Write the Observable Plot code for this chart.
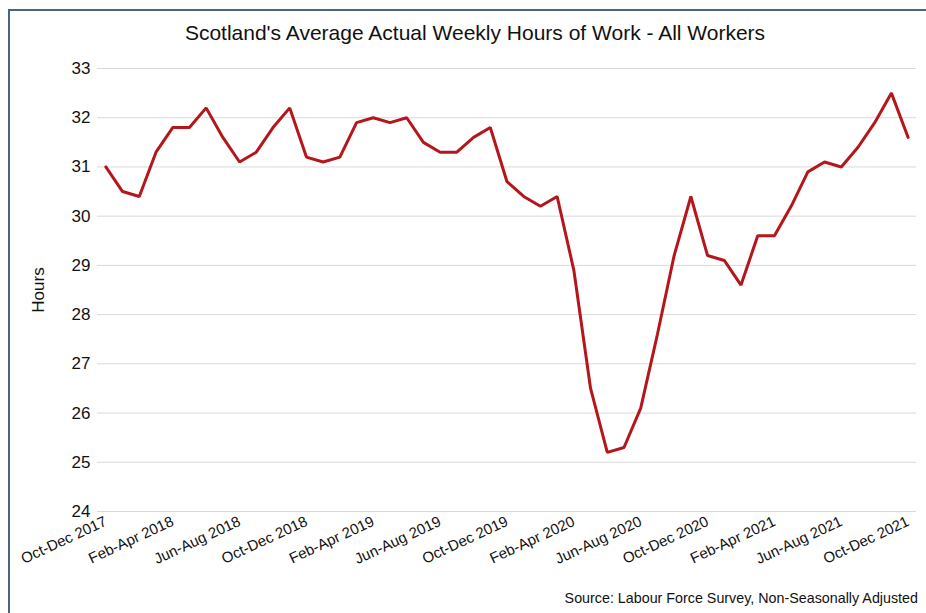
<!DOCTYPE html>
<html>
<head>
<meta charset="utf-8">
<script src="https://cdn.jsdelivr.net/npm/d3@7"></script>
<script src="https://cdn.jsdelivr.net/npm/@observablehq/plot@0.6"></script>
<style>
  html, body { margin: 0; padding: 0; background: #fff; }
  #wrap { position: relative; width: 926px; height: 613px; overflow: hidden; font-family: "Liberation Sans", Arial, sans-serif; color: #111; }
  #frame { position: absolute; left: 8px; top: 9px; width: 940px; height: 640px; border-top: 2px solid #46677d; border-left: 2px solid #46677d; box-sizing: border-box; }
  #title { position: absolute; left: 0; top: 22px; width: 950px; text-align: center; font-size: 21px; line-height: 1; }
  #source { position: absolute; right: 8px; top: 591px; font-size: 14.3px; line-height: 1; white-space: nowrap; }
  #chart { position: absolute; left: 0; top: 0; }
</style>
</head>
<body>
<div id="wrap">
  <div id="frame"></div>
  <div id="chart"></div>
  <div id="title">Scotland's Average Actual Weekly Hours of Work - All Workers</div>
  <div id="source">Source: Labour Force Survey, Non-Seasonally Adjusted</div>
</div>
<script>
const periods = ["Oct-Dec 2017","Nov-Jan 2018","Dec-Feb 2018","Jan-Mar 2018","Feb-Apr 2018","Mar-May 2018","Apr-Jun 2018","May-Jul 2018","Jun-Aug 2018","Jul-Sep 2018","Aug-Oct 2018","Sep-Nov 2018","Oct-Dec 2018","Nov-Jan 2019","Dec-Feb 2019","Jan-Mar 2019","Feb-Apr 2019","Mar-May 2019","Apr-Jun 2019","May-Jul 2019","Jun-Aug 2019","Jul-Sep 2019","Aug-Oct 2019","Sep-Nov 2019","Oct-Dec 2019","Nov-Jan 2020","Dec-Feb 2020","Jan-Mar 2020","Feb-Apr 2020","Mar-May 2020","Apr-Jun 2020","May-Jul 2020","Jun-Aug 2020","Jul-Sep 2020","Aug-Oct 2020","Sep-Nov 2020","Oct-Dec 2020","Nov-Jan 2021","Dec-Feb 2021","Jan-Mar 2021","Feb-Apr 2021","Mar-May 2021","Apr-Jun 2021","May-Jul 2021","Jun-Aug 2021","Jul-Sep 2021","Aug-Oct 2021","Sep-Nov 2021","Oct-Dec 2021"];

const hours = [31.0,30.5,30.4,31.3,31.8,31.8,32.2,31.6,31.1,31.3,31.8,32.2,
               31.2,31.1,31.2,31.9,32.0,31.9,32.0,31.5,31.3,31.3,31.6,31.8,
               30.7,30.4,30.2,30.4,28.9,26.5,25.2,25.3,26.1,27.6,29.2,30.4,
               29.2,29.1,28.6,29.6,29.6,30.2,30.9,31.1,31.0,31.4,31.9,32.5,
               31.6];

const xTickLabels = ["Oct-Dec 2017","Feb-Apr 2018","Jun-Aug 2018","Oct-Dec 2018","Feb-Apr 2019","Jun-Aug 2019","Oct-Dec 2019","Feb-Apr 2020","Jun-Aug 2020","Oct-Dec 2020","Feb-Apr 2021","Jun-Aug 2021","Oct-Dec 2021"];

const yTicks = [24,25,26,27,28,29,30,31,32,33];

const table = periods.map((p, i) => ({period: p, hours: hours[i]}));

const chart = Plot.plot({
  width: 926,
  height: 613,
  marginTop: 68,
  marginBottom: 102,
  marginLeft: 97,
  marginRight: 10,
  style: {fontFamily: "'Liberation Sans', Arial, sans-serif", background: "transparent", color: "#111"},
  x: {type: "point", domain: periods, padding: 0.5},
  y: {domain: [24, 33]},
  marks: [
    Plot.gridY(yTicks, {stroke: "#d9d9d9", strokeOpacity: 1, strokeWidth: 1}),
    Plot.axisY(yTicks, {tickSize: 0, tickPadding: 7, fontSize: 17, label: "Hours", labelAnchor: "center", labelArrow: "none", labelOffset: 66}),
    Plot.axisX(xTickLabels, {tickSize: 0, tickPadding: 9, tickRotate: -25, fontSize: 15, label: null}),
    Plot.lineY(table, {x: "period", y: "hours", stroke: "#b5161c", strokeWidth: 3, strokeLinejoin: "miter"})
  ]
});
document.getElementById("chart").appendChild(chart);
</script>
</body>
</html>
